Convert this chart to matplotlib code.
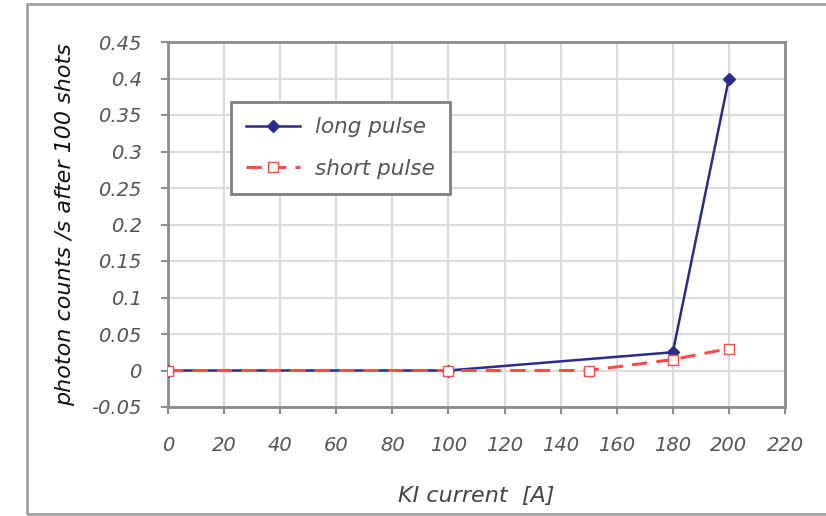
import matplotlib.pyplot as plt
from matplotlib.patches import Rectangle

# data
long_x = [0, 100, 180, 200]
long_y = [0.0, 0.0, 0.025, 0.4]
short_x = [0, 100, 150, 180, 200]
short_y = [0.0, 0.0, 0.0, 0.015, 0.03]
xticks = list(range(0, 221, 20))
yticks = [-0.05, 0, 0.05, 0.1, 0.15, 0.2, 0.25, 0.3, 0.35, 0.4, 0.45]
ytick_labels = ['-0.05', '0', '0.05', '0.1', '0.15', '0.2', '0.25', '0.3', '0.35', '0.4', '0.45']

fig = plt.figure(figsize=(8.26, 5.16), dpi=100)
# outer chart frame
fig.patches.append(Rectangle((27/826, 0.004), 1.2, 0.988, transform=fig.transFigure,
                             fill=False, edgecolor='#a0a0a0', linewidth=2))
ax = fig.add_axes([168/826, 1 - 407/516, (785 - 168)/826, (407 - 42)/516])

ax.plot(long_x, long_y, color='#2b2b8c', marker='D', markersize=6, linewidth=1.8,
        label='long pulse', zorder=3)
ax.plot(short_x, short_y, color='#ff4a4a', marker='s', markersize=7, markerfacecolor='white',
        markeredgecolor='#ff4a4a', linewidth=2.2, linestyle=(0, (5, 3)),
        label='short pulse', zorder=4)

ax.set_xlim(0, 220)
ax.set_ylim(-0.05, 0.45)
ax.set_xticks(xticks)
ax.set_yticks(yticks)
ax.set_yticklabels(ytick_labels)
ax.grid(True, color='#dcdcdc', linewidth=1.5)
ax.set_axisbelow(True)
for s in ax.spines.values():
    s.set_color('#8c8c8c')
    s.set_linewidth(2)
ax.tick_params(axis='both', length=5, width=1.5, color='#8c8c8c', labelcolor='#555555',
               labelsize=14)
ax.tick_params(axis='x', pad=16)
ax.tick_params(axis='y', pad=14)
for lbl in ax.get_xticklabels() + ax.get_yticklabels():
    lbl.set_fontstyle('italic')

ax.set_xlabel('KI current  [A]', fontsize=16, style='italic', color='#444444', labelpad=22)
ax.set_ylabel('photon counts /s after 100 shots', fontsize=16, style='italic', color='#111111',
              labelpad=12)

leg = ax.legend(loc='upper left', bbox_to_anchor=(0.085, 0.865), fancybox=False, framealpha=1,
                edgecolor='#808080', prop={'style': 'italic', 'size': 15.5}, handlelength=2.5,
                borderpad=0.7, labelspacing=1.0, handletextpad=0.7)
leg.get_frame().set_linewidth(2)
for t in leg.get_texts():
    t.set_color('#555555')

fig.savefig('out.png', dpi=100)
